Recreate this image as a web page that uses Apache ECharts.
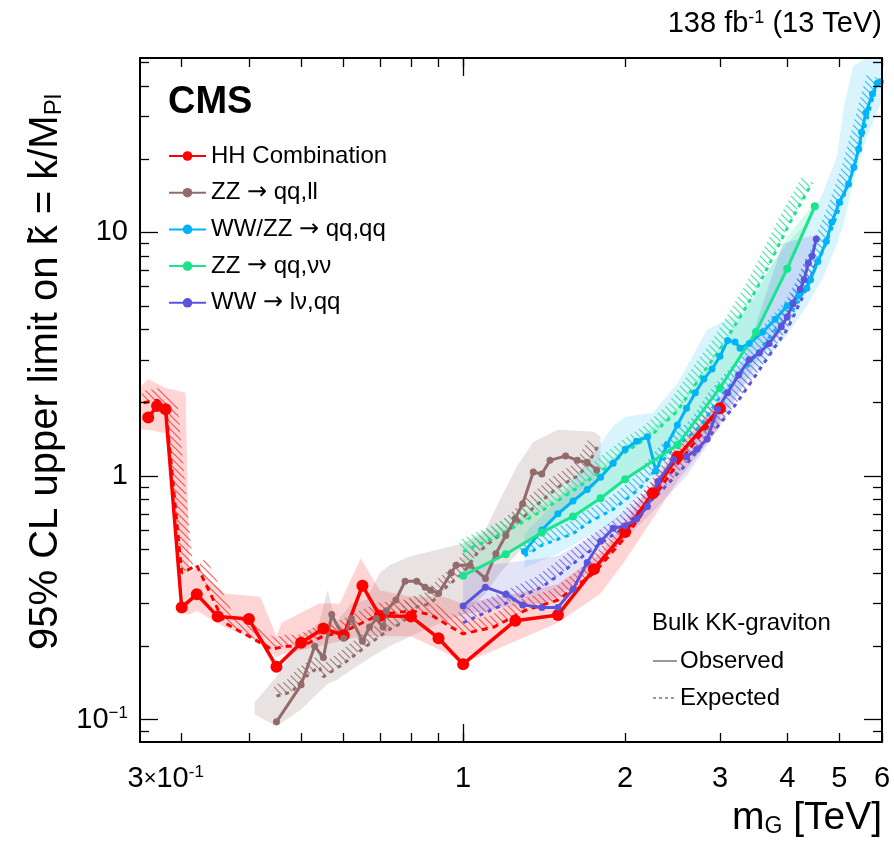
<!DOCTYPE html>
<html>
<head>
<meta charset="utf-8">
<script src="https://cdn.jsdelivr.net/npm/echarts@6/dist/echarts.min.js"></script>
<style>
  html, body { margin: 0; padding: 0; background: #fff; }
  #chart { width: 894px; height: 842px; }
</style>
</head>
<body>
<div id="chart"></div>
<script>
const FONT = '"Liberation Sans", Arial, Helvetica, sans-serif'

// axis ranges / ticks
const xTicks = [0.3, 0.4, 0.5, 0.6, 0.7, 0.8, 0.9, 1, 2, 3, 4, 5, 6]
const xMajor = [1]
const xLabels = [0.3, 1, 2, 3, 4, 5, 6]
const yTicks = [0.09, 0.2, 0.3, 0.4, 0.5, 0.6, 0.7, 0.8, 0.9, 2, 3, 4, 5, 6, 7, 8, 9, 20, 30, 40, 50]
const yMajor = [0.1, 1, 10]

const names = ['HH Combination', 'ZZ \u2192 qq,ll', 'WW/ZZ \u2192 qq,qq', 'ZZ \u2192 qq,\u03bd\u03bd', 'WW \u2192 l\u03bd,qq']

// HH combination
const redObs = [[0.26, 1.74], [0.27, 1.94], [0.28, 1.88], [0.30, 0.289], [0.32, 0.327], [0.35, 0.265], [0.40, 0.259],
  [0.45, 0.165], [0.50, 0.207], [0.55, 0.237], [0.60, 0.222], [0.65, 0.355], [0.70, 0.267], [0.80, 0.265],
  [0.90, 0.216], [1.0, 0.169], [1.25, 0.255], [1.5, 0.269], [1.75, 0.415], [2.0, 0.59], [2.25, 0.85], [2.5, 1.2], [3.0, 1.9]]
const redExp = [[0.255, 2.0], [0.27, 2.05], [0.28, 1.95], [0.30, 0.40], [0.32, 0.43], [0.36, 0.25], [0.40, 0.22],
  [0.44, 0.195], [0.47, 0.20], [0.50, 0.20], [0.55, 0.22], [0.60, 0.23], [0.65, 0.25], [0.70, 0.27], [0.80, 0.28],
  [0.87, 0.27], [0.95, 0.24], [1.0, 0.225], [1.14, 0.24], [1.3, 0.28], [1.5, 0.31], [1.75, 0.40], [2.0, 0.56],
  [2.5, 1.12], [3.0, 1.85]]
const redBand = [[0.25, 1.55, 2.3], [0.26, 1.55, 2.5], [0.28, 1.5, 2.3], [0.305, 0.27, 2.2], [0.31, 0.27, 0.40],
  [0.32, 0.28, 0.42], [0.36, 0.24, 0.33], [0.42, 0.21, 0.32], [0.45, 0.18, 0.22], [0.46, 0.185, 0.25],
  [0.54, 0.20, 0.30], [0.59, 0.21, 0.30], [0.645, 0.22, 0.46], [0.70, 0.22, 0.34], [0.80, 0.22, 0.32],
  [0.92, 0.19, 0.32], [1.0, 0.17, 0.30], [1.25, 0.21, 0.33], [1.5, 0.25, 0.36], [1.8, 0.33, 0.48],
  [2.0, 0.45, 0.65], [2.5, 0.95, 1.3], [3.0, 1.6, 2.05]]

// ZZ -> qq,ll
const brownObs = [[0.45, 0.098], [0.50, 0.139], [0.53, 0.20], [0.55, 0.18], [0.57, 0.27], [0.60, 0.216], [0.62, 0.26],
  [0.65, 0.21], [0.67, 0.24], [0.69, 0.26], [0.71, 0.24], [0.72, 0.28], [0.75, 0.31], [0.78, 0.37], [0.82, 0.37],
  [0.85, 0.35], [0.87, 0.34], [0.90, 0.33], [0.95, 0.40], [0.97, 0.43], [1.03, 0.43], [1.10, 0.38], [1.15, 0.48],
  [1.20, 0.57], [1.25, 0.67], [1.29, 0.77], [1.35, 1.04], [1.40, 1.02], [1.45, 1.16], [1.55, 1.21], [1.63, 1.16],
  [1.70, 1.14], [1.77, 1.06]]
const brownExp = [[0.45, 0.125], [0.48, 0.13], [0.51, 0.15], [0.54, 0.165], [0.55, 0.15], [0.60, 0.17], [0.65, 0.195],
  [0.68, 0.21], [0.73, 0.235], [0.77, 0.25], [0.82, 0.29], [0.87, 0.30], [0.93, 0.35], [1.0, 0.40], [1.06, 0.48],
  [1.14, 0.55], [1.24, 0.62], [1.35, 0.74], [1.5, 0.9], [1.63, 1.0], [1.7, 1.1], [1.78, 1.33]]
const brownBand = [[0.41, 0.105, 0.118], [0.45, 0.094, 0.15], [0.50, 0.11, 0.22], [0.54, 0.13, 0.25], [0.56, 0.14, 0.34],
  [0.58, 0.145, 0.25], [0.62, 0.16, 0.30], [0.66, 0.175, 0.31], [0.70, 0.19, 0.40], [0.73, 0.20, 0.43],
  [0.80, 0.22, 0.47], [0.87, 0.24, 0.49], [1.0, 0.27, 0.53], [1.1, 0.33, 0.60], [1.17, 0.40, 0.80],
  [1.26, 0.48, 1.1], [1.35, 0.56, 1.38], [1.5, 0.70, 1.55], [1.75, 0.90, 1.52], [1.8, 0.98, 1.45]]

// WW/ZZ -> qq,qq
const cyanObs = [[1.3, 0.49], [1.4, 0.60], [1.5, 0.70], [1.6, 0.79], [1.7, 0.88], [1.8, 0.99], [1.9, 1.13], [2.0, 1.29],
  [2.1, 1.39], [2.2, 1.45], [2.28, 1.05], [2.39, 1.34], [2.5, 1.62], [2.6, 1.9], [2.7, 2.2], [2.8, 2.5], [2.9, 2.75],
  [3.0, 3.1], [3.1, 3.6], [3.2, 3.55], [3.27, 3.35], [3.4, 3.5], [3.6, 3.9], [3.8, 4.4], [4.0, 5.0], [4.2, 5.5],
  [4.35, 5.9], [4.42, 6.4], [4.56, 7.6], [4.73, 9.2], [4.84, 11.0], [5.0, 13.3], [5.2, 15.8], [5.32, 18.5],
  [5.43, 22], [5.5, 25.8], [5.6, 31], [5.76, 37], [5.88, 41], [5.96, 41.5]]
const cyanExp = [[1.3, 0.47], [1.4, 0.52], [1.6, 0.58], [1.72, 0.65], [1.9, 0.73], [2.13, 0.89], [2.42, 1.25],
  [2.76, 1.6], [2.97, 2.05], [3.13, 2.35], [3.37, 2.8], [3.56, 3.3], [3.77, 3.9], [4.1, 4.8], [4.4, 6.3],
  [4.7, 8.8], [5.0, 12.5], [5.3, 18], [5.6, 28], [5.9, 43]]
const cyanBand = [[1.3, 0.42, 0.58], [1.5, 0.48, 0.80], [1.75, 0.58, 1.25], [1.9, 0.65, 1.6], [2.0, 0.72, 1.75],
  [2.25, 0.95, 1.82], [2.5, 1.2, 2.4], [2.84, 1.5, 4.0], [3.1, 1.9, 4.4], [3.3, 2.3, 4.7], [3.6, 2.9, 6.5],
  [4.0, 3.8, 9], [4.35, 5.0, 11], [4.66, 6.5, 14.6], [4.95, 9, 20.6], [5.1, 11, 33], [5.3, 16, 48],
  [5.6, 24, 52], [6.0, 35, 52]]

// ZZ -> qq,nunu
const greenObs = [[1.0, 0.39], [1.2, 0.478], [1.4, 0.587], [1.6, 0.683], [1.8, 0.81], [2.0, 0.97], [2.5, 1.34],
  [3.0, 2.3], [3.5, 3.9], [4.0, 7.1], [4.5, 12.8]]
const greenExp = [[1.0, 0.49], [1.2, 0.59], [1.4, 0.72], [1.6, 0.87], [1.8, 1.04], [2.0, 1.25], [2.25, 1.49],
  [2.5, 1.85], [2.84, 2.8], [3.0, 3.3], [3.27, 4.5], [3.5, 5.8], [3.67, 7.1], [4.05, 11], [4.45, 16]]
const greenBand = [[1.0, 0.40, 0.53], [1.2, 0.48, 0.63], [1.4, 0.58, 0.76], [1.6, 0.68, 0.9], [2.0, 0.97, 1.3],
  [2.5, 1.35, 1.9], [3.0, 2.3, 3.4], [3.5, 3.9, 5.5], [4.0, 7.0, 9.6], [4.5, 12.5, 13.3]]

// WW -> lnu,qq
const purpleObs = [[1.0, 0.293], [1.1, 0.35], [1.2, 0.327], [1.29, 0.296], [1.4, 0.289], [1.5, 0.289], [1.6, 0.343],
  [1.7, 0.442], [1.8, 0.54], [1.9, 0.61], [2.0, 0.625], [2.1, 0.666], [2.2, 0.75], [2.3, 0.95], [2.46, 1.17],
  [2.6, 1.2], [2.72, 1.29], [2.84, 1.42], [2.97, 1.88], [3.1, 2.2], [3.25, 2.6], [3.4, 3.0], [3.55, 3.2],
  [3.7, 3.5], [3.9, 4.1], [4.0, 4.5], [4.1, 5.1], [4.23, 5.85], [4.3, 6.4], [4.38, 7.5], [4.45, 8.0], [4.53, 9.4]]
const purpleExp = [[1.0, 0.25], [1.2, 0.30], [1.4, 0.35], [1.5, 0.39], [1.65, 0.46], [1.8, 0.53], [2.0, 0.62],
  [2.15, 0.74], [2.3, 0.84], [2.6, 1.12], [2.9, 1.5], [3.2, 1.95], [3.5, 2.6], [3.8, 3.4], [4.0, 4.0],
  [4.3, 5.6], [4.53, 7.5]]
const purpleBand = [[1.0, 0.27, 0.42], [1.2, 0.29, 0.44], [1.4, 0.30, 0.46], [1.5, 0.32, 0.47], [1.7, 0.40, 0.55],
  [2.0, 0.55, 0.72], [2.3, 0.75, 0.95], [2.6, 1.0, 1.35], [3.0, 1.6, 2.1], [3.3, 2.3, 3.0], [3.5, 2.9, 4.2],
  [3.93, 4.0, 9.0], [4.45, 7.8, 9.7], [4.53, 9.2, 9.5]]

const groups = [
  {name: names[0], color: '#ff0000', band: 'rgba(255,0,0,0.17)', hatch: 'rgba(255,40,40,0.75)', obs: redObs, exp: redExp, bandData: redBand, size: 12, width: 3.5, dash: [6, 5]},
  {name: names[1], color: '#936b6b', band: 'rgba(140,100,100,0.19)', hatch: 'rgba(140,100,100,0.8)', obs: brownObs, exp: brownExp, bandData: brownBand, size: 7, width: 3, dash: [4, 5]},
  {name: names[2], color: '#00b4f5', band: 'rgba(0,180,240,0.15)', hatch: 'rgba(0,170,240,0.75)', obs: cyanObs, exp: cyanExp, bandData: cyanBand, size: 7, width: 3, dash: [4, 5]},
  {name: names[3], color: '#19e68c', band: 'rgba(25,230,140,0.18)', hatch: 'rgba(25,225,140,0.8)', obs: greenObs, exp: greenExp, bandData: greenBand, size: 8, width: 3, dash: [4, 5]},
  {name: names[4], color: '#5a54dc', band: 'rgba(90,84,220,0.16)', hatch: 'rgba(90,84,220,0.75)', obs: purpleObs, exp: purpleExp, bandData: purpleBand, size: 7, width: 3, dash: [4, 5]},
]

const hatchPattern = color => {
  const s = 7
  const c = document.createElement('canvas')
  c.width = c.height = s
  const g = c.getContext('2d')
  g.strokeStyle = color
  g.lineWidth = 1.2
  g.beginPath()
  g.moveTo(-1, -1); g.lineTo(s + 1, s + 1)
  g.moveTo(s - 1, -1); g.lineTo(s + 1, 1)
  g.moveTo(-1, s - 1); g.lineTo(1, s + 1)
  g.stroke()
  return {type: 'pattern', image: c, repeat: 'repeat'}
}

const bandSeries = grp => ({
  type: 'custom',
  name: grp.name + ' band',
  silent: true,
  clip: true,
  z: 1,
  data: grp.bandData,
  encode: {x: 0, y: 1},
  renderItem: (params, api) => {
    if (params.dataIndex !== 0) return
    const upper = grp.bandData.map(d => api.coord([d[0], d[2]]))
    const lower = grp.bandData.map(d => api.coord([d[0], d[1]])).reverse()
    return {type: 'polygon', shape: {points: upper.concat(lower)}, style: {fill: grp.band}}
  },
})

// hatched strip on the upper side of the expected line
const hatchSeries = grp => {
  const fill = hatchPattern(grp.hatch)
  return {
    type: 'custom',
    name: grp.name + ' hatch',
    silent: true,
    clip: true,
    z: 2,
    data: grp.exp,
    encode: {x: 0, y: 1},
    renderItem: (params, api) => {
      if (params.dataIndex !== 0) return
      const w = 12
      const p = grp.exp.map(d => api.coord(d))
      const off = p.map((q, i) => {
        const a = p[Math.max(i - 1, 0)]
        const b = p[Math.min(i + 1, p.length - 1)]
        let dx = b[0] - a[0]
        let dy = b[1] - a[1]
        const L = Math.hypot(dx, dy) || 1
        dx /= L
        dy /= L
        return [q[0] + dy * w, q[1] - dx * w]
      })
      return {type: 'polygon', shape: {points: p.concat(off.reverse())}, style: {fill}}
    },
  }
}

const expSeries = grp => ({
  type: 'line',
  name: grp.name + ' expected',
  data: grp.exp,
  symbol: 'none',
  z: 3,
  silent: true,
  lineStyle: {color: grp.color, width: 3, type: grp.dash},
})

const obsSeries = grp => ({
  type: 'line',
  name: grp.name,
  data: grp.obs,
  symbol: 'circle',
  symbolSize: grp.size,
  showAllSymbol: true,
  z: 4,
  itemStyle: {color: grp.color},
  lineStyle: {color: grp.color, width: grp.width},
})

const tickRich = {
  n: {fontSize: 29, fontFamily: FONT, color: '#000'},
  x: {fontSize: 22, fontFamily: FONT, color: '#000'},
  sup: {fontSize: 17, verticalAlign: 'top', fontFamily: FONT, color: '#000'},
  supx: {fontSize: 17, verticalAlign: 'top', fontFamily: FONT, color: '#000', padding: [0, 32, 0, 0]},
}

const xAxisOf = (position, ticks, len, withLabels, withLine) => ({
  type: 'log',
  logBase: 10,
  min: 0.251,
  max: 6,
  position,
  z: 10,
  axisLine: {show: withLine, onZero: false, lineStyle: {color: '#000', width: 2}},
  axisTick: {show: true, inside: true, length: len, customValues: ticks, lineStyle: {color: '#000', width: 1.3}},
  axisLabel: {
    show: withLabels,
    customValues: xLabels,
    margin: 22,
    formatter: v => Math.abs(v - 0.3) < 1e-6 ? '{n|3}{x|\u00d7}{n|10}{supx|-1}' : '{n|' + Math.round(v) + '}',
    rich: tickRich,
  },
  splitLine: {show: false},
})

const yAxisOf = (position, ticks, len, withLabels, withLine) => ({
  type: 'log',
  logBase: 10,
  min: 0.081,
  max: 52,
  position,
  z: 10,
  axisLine: {show: withLine, onZero: false, lineStyle: {color: '#000', width: 2}},
  axisTick: {show: true, inside: true, length: len, customValues: ticks, lineStyle: {color: '#000', width: 1.3}},
  axisLabel: {
    show: withLabels,
    customValues: yMajor,
    margin: 12,
    formatter: v => v < 0.5 ? '{n|10}{sup|\u22121}' : '{n|' + Math.round(v) + '}',
    rich: tickRich,
  },
  splitLine: {show: false},
})

const chart = echarts.init(document.getElementById('chart'))

chart.setOption({
  animation: false,
  backgroundColor: '#fff',
  grid: {left: 140, right: 12, top: 58, bottom: 100},
  xAxis: [
    xAxisOf('bottom', xTicks, 9, true, true),
    xAxisOf('bottom', xMajor, 18, false, false),
    xAxisOf('top', xTicks, 9, false, true),
    xAxisOf('top', xMajor, 18, false, false),
  ],
  yAxis: [
    yAxisOf('left', yTicks, 9, false, true),
    yAxisOf('left', yMajor, 18, true, false),
    yAxisOf('right', yTicks, 9, false, true),
    yAxisOf('right', yMajor, 18, false, false),
  ],
  legend: {
    data: names,
    orient: 'vertical',
    left: 168,
    top: 144,
    padding: 0,
    itemWidth: 37,
    itemHeight: 12,
    itemGap: 12.7,
    formatter: n => n.replace('\u2192', '{a|\u2192}'),
    textStyle: {
      fontSize: 24, color: '#000', fontFamily: FONT,
      rich: {a: {fontSize: 24, fontFamily: '"DejaVu Sans", sans-serif', color: '#000'}},
    },
  },
  series: [
    ...groups.map(bandSeries),
    ...groups.map(hatchSeries),
    ...groups.map(expSeries),
    ...groups.map(obsSeries),
  ],
  graphic: [
    {type: 'text', left: 168, top: 84, style: {text: 'CMS', fontSize: 38, fontWeight: 'bold', fontFamily: FONT, fill: '#000'}},
    {
      type: 'text', right: 12, top: 9,
      style: {
        text: '138 fb{sup|-1} (13 TeV)', fontSize: 29, fontFamily: FONT, fill: '#000',
        rich: {sup: {fontSize: 18, verticalAlign: 'top', fontFamily: FONT}},
      },
    },
    {
      type: 'text', right: 12, top: 799,
      style: {
        text: 'm{sub|G} [TeV]', fontSize: 39, fontFamily: FONT, fill: '#000',
        rich: {sub: {fontSize: 23, verticalAlign: 'bottom', fontFamily: FONT}},
      },
    },
    {
      type: 'text', x: 46, y: 372, rotation: Math.PI / 2,
      style: {
        text: '95% CL upper limit on k\u0303 = k/M{sub|Pl}', fontSize: 40, fontFamily: FONT, fill: '#000',
        align: 'center', verticalAlign: 'middle',
        rich: {sub: {fontSize: 24, verticalAlign: 'bottom', fontFamily: FONT}},
      },
    },
    {type: 'text', left: 652, top: 611, style: {text: 'Bulk KK-graviton', fontSize: 24, fontFamily: FONT, fill: '#000'}},
    {type: 'line', shape: {x1: 653, y1: 661, x2: 677, y2: 661}, style: {stroke: '#999', lineWidth: 2}},
    {type: 'text', left: 680, top: 649, style: {text: 'Observed', fontSize: 24, fontFamily: FONT, fill: '#000'}},
    {type: 'line', shape: {x1: 653, y1: 698, x2: 677, y2: 698}, style: {stroke: '#999', lineWidth: 2, lineDash: [3, 3]}},
    {type: 'text', left: 680, top: 686, style: {text: 'Expected', fontSize: 24, fontFamily: FONT, fill: '#000'}},
  ],
})
</script>
</body>
</html>
